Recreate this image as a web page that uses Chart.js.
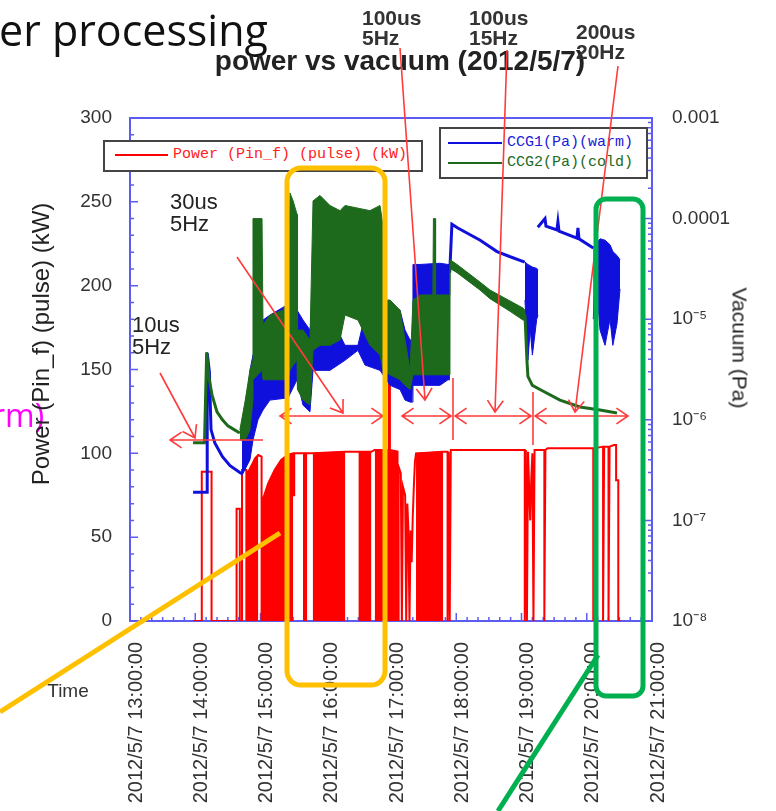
<!DOCTYPE html>
<html lang="en">
<head>
<meta charset="UTF-8">
<title>power vs vacuum (2012/5/7)</title>
<script src="https://cdn.jsdelivr.net/npm/chart.js"></script>
<style>
  html, body { margin: 0; padding: 0; background: #fff; }
  #page { position: relative; width: 776px; height: 811px; overflow: hidden; font-family: "Liberation Sans", Arial, sans-serif; }
  #chart { position: absolute; left: 0; top: 0; }
  .txt { position: absolute; white-space: nowrap; line-height: 1; }
  .note { position: absolute; white-space: nowrap; color: #333; font-weight: bold; font-size: 21px; line-height: 20px; }
  .note2 { position: absolute; white-space: nowrap; color: #222; font-size: 22px; line-height: 22px; }
  .legend { position: absolute; box-sizing: border-box; border: 2px solid #444; background: #fff; }
  .legend .sw { position: absolute; height: 2px; }
  .legend .lt { position: absolute; font-family: "Liberation Mono", monospace; font-size: 15px; line-height: 16px; white-space: nowrap; }
  .rot { position: absolute; white-space: nowrap; line-height: 1; color: #222; }
  #marks { position: absolute; left: 0; top: 0; }
</style>
</head>
<body>
<div id="page">
  <canvas id="chart" width="776" height="811"></canvas>

  <div class="txt" style="left:-1px;top:8px;font-family:'Open Sans',sans-serif;font-size:43px;color:#111">er processing</div>
  <div class="txt" style="left:-8px;top:399px;font-family:'Open Sans',sans-serif;font-size:32px;color:#ff00ff">rm)</div>
  <div class="txt" style="left:0;width:800px;text-align:center;top:47px;font-size:28px;font-weight:bold;color:#222">power vs vacuum (2012/5/7)</div>

  <div class="note" style="left:362px;top:8px">100us<br>5Hz</div>
  <div class="note" style="left:469px;top:8px">100us<br>15Hz</div>
  <div class="note" style="left:576px;top:22px">200us<br>20Hz</div>
  <div class="note2" style="left:170px;top:191px">30us<br>5Hz</div>
  <div class="note2" style="left:132px;top:314px">10us<br>5Hz</div>

  <div class="legend" style="left:103px;top:140px;width:320px;height:32px">
    <span class="sw" style="left:10px;top:12px;width:53px;background:#ff0000"></span>
    <span class="lt" style="left:68px;top:5px;color:#ff2020">Power (Pin_f) (pulse) (kW)</span>
  </div>
  <div class="legend" style="left:439px;top:127px;width:209px;height:52px">
    <span class="sw" style="left:7px;top:13px;width:54px;background:#1010dd"></span>
    <span class="lt" style="left:66px;top:6px;color:#2020d8">CCG1(Pa)(warm)</span>
    <span class="sw" style="left:7px;top:33px;width:54px;background:#1d6a1d"></span>
    <span class="lt" style="left:66px;top:26px;color:#1d6a1d">CCG2(Pa)(cold)</span>
  </div>

  <div class="rot" style="left:41px;top:344px;font-size:24px;transform:translate(-50%,-50%) rotate(-90deg)">Power (Pin_f) (pulse) (kW)</div>
  <div class="rot" style="left:740px;top:348px;font-size:21px;transform:translate(-50%,-50%) rotate(90deg)">Vacuum (Pa)</div>
  <div class="rot" style="left:68px;top:690px;font-size:19px;color:#333;transform:translate(-50%,-50%)">Time</div>

  <svg id="marks" width="776" height="811">
    <rect x="287" y="168" width="98" height="517" rx="14" fill="none" stroke="#ffc000" stroke-width="5"/>
    <line x1="0" y1="712" x2="280" y2="533" stroke="#ffc000" stroke-width="5"/>
    <rect x="596" y="199" width="47" height="497" rx="10" fill="none" stroke="#00b050" stroke-width="5"/>
    <line x1="498" y1="811" x2="598" y2="655" stroke="#00b050" stroke-width="5"/>
  </svg>
</div>

<script>
  // x = minutes after 2012/5/7 13:00:00
  const timeTickLabels = ['2012/5/7 13:00:00', '2012/5/7 14:00:00', '2012/5/7 15:00:00', '2012/5/7 16:00:00',
    '2012/5/7 17:00:00', '2012/5/7 18:00:00', '2012/5/7 19:00:00', '2012/5/7 20:00:00', '2012/5/7 21:00:00'];
  const vacuumTicks = [1e-8, 1e-7, 1e-6, 1e-5, 1e-4, 1e-3];
  const vacuumTickLabels = ['10⁻⁸', '10⁻⁷', '10⁻⁶', '10⁻⁵', '0.0001', '0.001'];

  // Power (Pin_f) (pulse) (kW) - trace
  const powerTime = [
    58, 66, 66, 75, 75, 98, 98, 101, 101, 103,
    103, 107, 107, 108, 108, 112, 115, 118, 121, 121,
    122, 122, 127, 133, 139, 145, 150, 150, 151, 151,
    159, 163, 168, 198, 210, 222, 225, 238, 238, 239,
    239, 246, 246, 247, 247, 249, 250, 251, 253, 254,
    255, 256, 257, 258, 259, 260, 261, 262, 263, 288,
    292, 292, 293, 294, 295, 296, 363, 363, 364, 365,
    366, 367, 368, 369, 370, 371, 372, 381, 381, 382,
    384, 426, 426, 427, 435, 435, 436, 440, 440, 441,
    445, 447, 447, 449, 449, 451
  ];
  const powerKW = [
    0, 0, 89, 89, 0, 0, 67, 67, 0, 0,
    90, 90, 0, 0, 88, 93, 97, 99, 98, 0,
    0, 72, 82, 90, 96, 99, 100, 75, 75, 100,
    100, 100, 100, 101, 101, 101, 102, 102, 143, 143,
    102, 101, 0, 0, 92, 88, 0, 80, 75, 0,
    70, 55, 0, 54, 35, 62, 80, 95, 100, 101,
    101, 0, 101, 0, 102, 102, 102, 0, 102, 0,
    101, 80, 60, 85, 100, 0, 102, 102, 0, 102,
    103, 103, 0, 103, 104, 0, 104, 104, 0, 104,
    105, 105, 84, 84, 0, 0
  ];
  // dense pulsing periods (trace drops to 0 at every pulse), upper envelope
  const powerFillTime = [108, 112, 115, 118, 119, 122, 127, 133, 139, 145, 150, 151, 159, 163, 164,
    168, 198, 199, 210, 222, 223, 225, 246, 247, 263, 288];
  const powerFillKW = [88, 93, 97, 99, null, 72, 82, 90, 96, 99, 100, null, 100, 100, null,
    100, 101, null, 101, 101, null, 102, 101, null, 100, 101];

  // CCG1(Pa)(warm)
  const ccg1Time = [58, 71, 71, 73, 74.5, 78, 85, 92, 101, 103, 200,
    294, 296, 301, 322, 337.5, 349, 363, 370,
    375, 381.6, 382.5, 392.6, 393.5, 394.5, 411, 411.9, 412.9, 426];
  const ccg1Pa = [1.9e-7, 1.9e-7, 4.6e-6, 3.0e-6, 8e-7, 5.9e-7, 4.3e-7, 3.5e-7, 3.0e-7, 2.9e-7, null,
    2.9e-5, 8.8e-5, 8.1e-5, 6.1e-5, 4.7e-5, 4.2e-5, 3.7e-5, null,
    8.2e-5, 1.0e-4, 8.4e-5, 7.7e-5, 9.3e-5, 7.5e-5, 6.4e-5, 8.1e-5, 6.3e-5, 5.1e-5];
  const ccg1BandTime = [103, 105.7, 110.3, 113.1, 117.7, 122.3, 128.7, 145.3, 153.6, 159.1,
    165.5, 168.3, 183.9, 197.7, 209.6, 216.1, 229.9, 239.1, 248.3, 252.9,
    257.5, 259.6, 260.2, 266.7, 285, 292.4, 294.2, 300, 363.2, 365.9,
    368, 370, 374, 375.2, 400, 426, 428, 432.2, 436.8, 441.4,
    444, 447.8, 450.6];
  const ccg1BandHigh = [6.3e-7, 1.0e-6, 3.1e-6, 4.4e-6, 6.2e-6, 9.8e-6, 1.1e-5, 1.4e-5, 1.23e-5, 9.8e-6,
    7.8e-6, 1.3e-5, 1.1e-5, 5.5e-6, 5.5e-6, 1.1e-5, 1.23e-5, 1.4e-5, 1.23e-5, 7.8e-6,
    6.2e-6, 6.2e-6, 3.5e-5, 3.5e-5, 3.6e-5, 3.5e-5, 3.5e-5, null, 3.7e-5, 3.5e-5,
    3.4e-5, 3.3e-5, 3.2e-5, 3.1e-5, null, 5.1e-5, 5.5e-5, 6.3e-5, 6.1e-5, 5.5e-5,
    4.7e-5, 4.3e-5, 3.9e-5];
  const ccg1BandLow = [2.8e-7, 3.2e-7, 4.0e-7, 6.3e-7, 1.0e-6, 1.25e-6, 1.57e-6, 1.65e-6, 2.5e-6, 1.4e-6,
    1.2e-6, 3.1e-6, 3.1e-6, 3.9e-6, 4.9e-6, 3.5e-6, 3.1e-6, 2.2e-6, 2.0e-6, 1.57e-6,
    1.5e-6, 1.5e-6, 2.2e-6, 2.2e-6, 2.2e-6, 2.5e-6, 2.5e-6, null, 1.55e-5, 3.9e-6,
    8e-6, 4.4e-6, 1.0e-5, 1.1e-5, null, 1.0e-5, 3.0e-5, 7.8e-6, 5.5e-6, 1.0e-5,
    5.5e-6, 9e-6, 2.0e-5];

  // CCG2(Pa)(cold)
  const ccg2Time = [58, 68.5, 70.5, 72.6, 75.4, 80, 85, 90, 96.5, 101, 200,
    363.2, 365, 365.9, 370, 377, 395.4, 413.8, 432.2, 447.8];
  const ccg2Pa = [5.9e-7, 5.9e-7, 4.7e-6, 2.6e-6, 1.77e-6, 1.2e-6, 1.0e-6, 8.7e-7, 7.9e-7, 7.4e-7, null,
    1.1e-5, 3.9e-6, 2.7e-6, 2.2e-6, 2.0e-6, 1.57e-6, 1.34e-6, 1.25e-6, 1.17e-6];
  const ccg2BandTime = [101, 106, 110.3, 113, 113.1, 121.4, 122.3, 128.7, 140.7, 145.3,
    147.1, 150, 153.6, 154, 159.1, 165.5, 168.3, 174.7, 183.9, 193.1,
    197.7, 209.6, 220.7, 229.9, 232.6, 235, 239.1, 248.3, 252.9, 257.5,
    260.2, 266.7, 278.5, 279, 280.5, 281, 294.2, 294.3, 300.7, 321.8,
    331, 349.4, 361.4, 363.2];
  const ccg2BandHigh = [7.9e-7, 1.57e-6, 3.1e-6, 3.9e-6, 1.0e-4, 1.0e-4, 8.8e-6, 1.1e-5, 1.23e-5, 1.55e-5,
    1.8e-4, 1.5e-4, 1.1e-4, 7.8e-6, 7.8e-6, 6.2e-6, 1.5e-4, 1.7e-4, 1.35e-4, 1.2e-4,
    1.35e-4, 1.27e-4, 1.2e-4, 1.35e-4, 8.6e-5, 1.55e-5, 1.55e-5, 1.23e-5, 6.2e-6, 3.1e-6,
    1.55e-5, 1.74e-5, 1.74e-5, 1.0e-4, 1.0e-4, 1.74e-5, 1.74e-5, 3.9e-5, 3.5e-5, 2.34e-5,
    1.95e-5, 1.52e-5, 1.29e-5, 1.23e-5];
  const ccg2BandLow = [6.3e-7, 6.3e-7, 7.9e-7, 1.57e-6, 2.5e-6, 3.1e-6, 2.5e-6, 2.5e-6, 2.5e-6, 2.5e-6,
    3.1e-6, 3.5e-6, 3.9e-6, 2.0e-6, 1.57e-6, 1.4e-6, 4.9e-6, 5.5e-6, 5.5e-6, 6.2e-6,
    1.1e-5, 9.8e-6, 5.5e-6, 4.4e-6, 3.1e-6, 3.0e-6, 2.8e-6, 2.5e-6, 2.2e-6, 2.0e-6,
    2.8e-6, 2.8e-6, 2.8e-6, 2.8e-6, 2.8e-6, 2.8e-6, 2.8e-6, 3.2e-5, 2.9e-5, 1.95e-5,
    1.6e-5, 1.2e-5, 9.8e-6, 9.8e-6];

  const RED = '#ff0000';
  const BLUE = '#1010dd';
  const GREEN = '#1d6a1d';
  const AXIS_BLUE = '#5c5cf2';
  const FONT = '"Liberation Sans", Arial, sans-serif';

  const pts = (t, v) => t.map((x, i) => ({ x: x, y: v[i] }));

  function trace(label, t, v, color, axis, width, order, fill) {
    return {
      label: label, data: pts(t, v), yAxisID: axis, order: order,
      borderColor: color, backgroundColor: color, borderWidth: width,
      pointRadius: 0, tension: 0, fill: fill || false
    };
  }

  // blue frame with inward minor/major ticks, like the original plot
  const frameTicks = {
    id: 'frameTicks',
    beforeDatasetsDraw(chart) {
      const { ctx, chartArea: a, scales } = chart;
      ctx.save();
      ctx.strokeStyle = AXIS_BLUE;
      ctx.lineWidth = 1.5;
      ctx.beginPath();
      for (let v = 0; v <= 300; v += 10) {
        const y = scales.y.getPixelForValue(v);
        ctx.moveTo(a.left, y); ctx.lineTo(a.left + (v % 50 === 0 ? 8 : 4), y);
      }
      for (let e = -8; e < -3; e++) {
        for (let k = 1; k < 10; k++) {
          const y = scales.y1.getPixelForValue(k * Math.pow(10, e));
          ctx.moveTo(a.right, y); ctx.lineTo(a.right - (k === 1 ? 8 : 4), y);
        }
      }
      for (let m = 0; m <= 480; m += 10) {
        const x = scales.x.getPixelForValue(m);
        ctx.moveTo(x, a.bottom); ctx.lineTo(x, a.bottom - (m % 60 === 0 ? 8 : 4));
      }
      ctx.stroke();
      ctx.lineWidth = 2;
      ctx.strokeRect(a.left, a.top, a.right - a.left, a.bottom - a.top);
      ctx.restore();
    }
  };

  new Chart(document.getElementById('chart'), {
    type: 'line',
    data: {
      datasets: [
        trace('CCG1(Pa)(warm)', ccg1Time, ccg1Pa, BLUE, 'y1', 3, 2),
        trace('CCG1 band', ccg1BandTime, ccg1BandHigh, BLUE, 'y1', 1, 2, '+1'),
        trace('CCG1 band low', ccg1BandTime, ccg1BandLow, BLUE, 'y1', 1, 2),
        trace('CCG2(Pa)(cold)', ccg2Time, ccg2Pa, GREEN, 'y1', 3, 1),
        trace('CCG2 band', ccg2BandTime, ccg2BandHigh, GREEN, 'y1', 1, 1, '+1'),
        trace('CCG2 band low', ccg2BandTime, ccg2BandLow, GREEN, 'y1', 1, 1),
        trace('Power (Pin_f) (pulse) (kW)', powerTime, powerKW, RED, 'y', 2, 3),
        trace('Power pulsing', powerFillTime, powerFillKW, RED, 'y', 1, 3, 'origin')
      ]
    },
    options: {
      responsive: false,
      animation: false,
      devicePixelRatio: 1,
      layout: { padding: { top: 118, left: 0, right: 0, bottom: 0 } },
      plugins: { legend: { display: false }, tooltip: { enabled: false } },
      scales: {
        x: {
          type: 'linear', min: 0, max: 480,
          grid: { display: false, drawTicks: false }, border: { display: false },
          ticks: {
            stepSize: 60, autoSkip: false, minRotation: 90, maxRotation: 90,
            padding: 21, labelOffset: 6, color: '#333', font: { family: FONT, size: 20 },
            callback: (v, i) => timeTickLabels[i]
          },
          afterFit(s) { s.height = 190; }
        },
        y: {
          position: 'left', min: 0, max: 300,
          grid: { display: false, drawTicks: false }, border: { display: false },
          ticks: { stepSize: 50, padding: 18, color: '#333', font: { family: FONT, size: 19 } },
          afterFit(s) { s.width = 130; }
        },
        y1: {
          type: 'logarithmic', position: 'right', min: 1e-8, max: 1e-3,
          grid: { display: false, drawTicks: false }, border: { display: false },
          afterBuildTicks(s) { s.ticks = vacuumTicks.map(v => ({ value: v })); },
          ticks: { padding: 20, color: '#333', font: { family: FONT, size: 19 },
            callback: (v, i) => vacuumTickLabels[i] },
          afterFit(s) { s.width = 124; }
        }
      }
    },
    plugins: [frameTicks]
  });

  // red hand-drawn arrows of the slide: x1, y1, x2, y2, head at end, head at start
  const redArrows = [
    [160, 373, 195, 438, 1, 0], [170, 440, 263, 440, 0, 1], [237, 257, 343, 413, 1, 0],
    [280, 416, 383, 416, 1, 1], [402, 416, 451, 416, 1, 1], [455, 416, 531, 416, 1, 1],
    [535, 416, 628, 416, 1, 1], [453, 378, 453, 440, 0, 0], [533, 392, 533, 445, 0, 0],
    [400, 48, 425, 400, 1, 0], [507, 50, 495, 412, 1, 0], [618, 66, 575, 412, 1, 0]
  ];
  const svg = document.getElementById('marks');
  function head(x, y, a) {
    const L = 14, w = 0.6;
    return 'M' + (x + L * Math.cos(a + Math.PI - w)) + ',' + (y + L * Math.sin(a + Math.PI - w)) +
      'L' + x + ',' + y + 'L' + (x + L * Math.cos(a + Math.PI + w)) + ',' + (y + L * Math.sin(a + Math.PI + w));
  }
  redArrows.forEach(([x1, y1, x2, y2, e, s]) => {
    const a = Math.atan2(y2 - y1, x2 - x1);
    let d = 'M' + x1 + ',' + y1 + 'L' + x2 + ',' + y2;
    if (e) d += head(x2, y2, a);
    if (s) d += head(x1, y1, a + Math.PI);
    const p = document.createElementNS('http://www.w3.org/2000/svg', 'path');
    p.setAttribute('d', d);
    p.setAttribute('stroke', '#ff3b3b');
    p.setAttribute('stroke-width', '1.6');
    p.setAttribute('fill', 'none');
    svg.insertBefore(p, svg.firstChild);
  });
</script>
</body>
</html>
